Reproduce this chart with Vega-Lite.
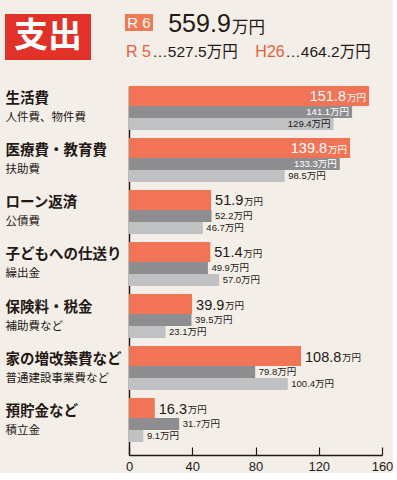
{
  "$schema": "https://vega.github.io/schema/vega-lite/v6.json",
  "background": "#f3efe8",
  "padding": {"left": 5, "top": 12, "right": 0, "bottom": 0},
  "config": {"view": {"stroke": null}, "concat": {"spacing": 0}},
  "datasets": {
    "bars": [
      {"cat": "生活費|人件費、物件費", "year": "R6", "value": 151.8},
      {"cat": "生活費|人件費、物件費", "year": "R5", "value": 141.1},
      {"cat": "生活費|人件費、物件費", "year": "H26", "value": 129.4},
      {"cat": "医療費・教育費|扶助費", "year": "R6", "value": 139.8},
      {"cat": "医療費・教育費|扶助費", "year": "R5", "value": 133.3},
      {"cat": "医療費・教育費|扶助費", "year": "H26", "value": 98.5},
      {"cat": "ローン返済|公債費", "year": "R6", "value": 51.9},
      {"cat": "ローン返済|公債費", "year": "R5", "value": 52.2},
      {"cat": "ローン返済|公債費", "year": "H26", "value": 46.7},
      {"cat": "子どもへの仕送り|繰出金", "year": "R6", "value": 51.4},
      {"cat": "子どもへの仕送り|繰出金", "year": "R5", "value": 49.9},
      {"cat": "子どもへの仕送り|繰出金", "year": "H26", "value": 57.0},
      {"cat": "保険料・税金|補助費など", "year": "R6", "value": 39.9},
      {"cat": "保険料・税金|補助費など", "year": "R5", "value": 39.5},
      {"cat": "保険料・税金|補助費など", "year": "H26", "value": 23.1},
      {"cat": "家の増改築費など|普通建設事業費など", "year": "R6", "value": 108.8},
      {"cat": "家の増改築費など|普通建設事業費など", "year": "R5", "value": 79.8},
      {"cat": "家の増改築費など|普通建設事業費など", "year": "H26", "value": 100.4},
      {"cat": "預貯金など|積立金", "year": "R6", "value": 16.3},
      {"cat": "預貯金など|積立金", "year": "R5", "value": 31.7},
      {"cat": "預貯金など|積立金", "year": "H26", "value": 9.1}
    ],
    "totals": [
      {"year": "R 6", "total": 559.9},
      {"year": "R 5", "total": 527.5},
      {"year": "H26", "total": 464.2}
    ]
  },
  "spacing": 24,
  "vconcat": [
    {
      "spacing": 34,
      "hconcat": [
        {
          "width": 86, "height": 46,
          "view": {"fill": "#e1322a", "stroke": null},
          "data": {"values": [{"t": "支出"}]},
          "mark": {"type": "text", "color": "#ffffff", "font": "Noto Sans CJK JP", "fontSize": 34, "fontWeight": "bold", "align": "center", "baseline": "middle"},
          "encoding": {"text": {"field": "t", "type": "nominal"}}
        },
        {
          "spacing": 5,
          "vconcat": [
            {
              "spacing": 14,
              "hconcat": [
                {
                  "width": 28, "height": 17,
                  "view": {"fill": "#f07a56", "stroke": null},
                  "data": {"name": "totals"},
                  "transform": [{"filter": "datum.year === 'R 6'"}],
                  "mark": {"type": "text", "color": "#ffffff", "font": "Liberation Sans", "fontSize": 15, "align": "center", "baseline": "bottom", "dy": 8.5},
                  "encoding": {"text": {"field": "year", "type": "nominal"}}
                },
                {
                  "spacing": 0,
                  "hconcat": [
                    {
                      "width": 65, "height": 23,
                      "data": {"name": "totals"},
                      "transform": [{"filter": "datum.year === 'R 6'"}],
                      "mark": {"type": "text", "color": "#231815", "font": "Liberation Sans", "fontSize": 25, "align": "center", "baseline": "bottom", "dy": 11.5},
                      "encoding": {"text": {"field": "total", "type": "quantitative", "format": ".1f"}}
                    },
                    {
                      "width": 33, "height": 23,
                      "data": {"name": "totals"},
                      "transform": [{"filter": "datum.year === 'R 6'"}],
                      "mark": {"type": "text", "color": "#231815", "font": "Noto Sans CJK JP", "fontSize": 16.5, "align": "center", "baseline": "bottom", "dy": 10},
                      "encoding": {"text": {"value": "万円"}}
                    }
                  ]
                }
              ]
            },
            {
              "spacing": 17,
              "hconcat": [
                {
                  "spacing": 0,
                  "hconcat": [
                    {
                      "width": 27, "height": 18,
                      "data": {"name": "totals"},
                      "transform": [{"filter": "datum.year === 'R 5'"}],
                      "mark": {"type": "text", "color": "#e8603a", "font": "Liberation Sans", "fontSize": 16, "align": "center", "baseline": "bottom", "dy": 9},
                      "encoding": {"text": {"field": "year", "type": "nominal"}}
                    },
                    {
                      "width": 86, "height": 18,
                      "data": {"name": "totals"},
                      "transform": [{"filter": "datum.year === 'R 5'"}, {"calculate": "'…' + format(datum.total, '.1f') + '万円'", "as": "lbl"}],
                      "mark": {"type": "text", "color": "#231815", "font": "Liberation Sans, Noto Sans CJK JP", "fontSize": 15.5, "align": "center", "baseline": "bottom", "dy": 9},
                      "encoding": {"text": {"field": "lbl", "type": "nominal"}}
                    }
                  ]
                },
                {
                  "spacing": 0,
                  "hconcat": [
                    {
                      "width": 30, "height": 18,
                      "data": {"name": "totals"},
                      "transform": [{"filter": "datum.year === 'H26'"}],
                      "mark": {"type": "text", "color": "#e8603a", "font": "Liberation Sans", "fontSize": 16, "align": "center", "baseline": "bottom", "dy": 9},
                      "encoding": {"text": {"field": "year", "type": "nominal"}}
                    },
                    {
                      "width": 82, "height": 18,
                      "data": {"name": "totals"},
                      "transform": [{"filter": "datum.year === 'H26'"}, {"calculate": "'…' + format(datum.total, '.1f') + '万円'", "as": "lbl"}],
                      "mark": {"type": "text", "color": "#231815", "font": "Liberation Sans, Noto Sans CJK JP", "fontSize": 15.5, "align": "center", "baseline": "bottom", "dy": 9},
                      "encoding": {"text": {"field": "lbl", "type": "nominal"}}
                    }
                  ]
                }
              ]
            }
          ]
        }
      ]
    },
    {
      "spacing": 2,
      "resolve": {"scale": {"x": "independent", "y": "independent"}},
      "hconcat": [
        {
          "width": 118,
          "height": 369,
          "data": {"name": "bars"},
          "transform": [{"filter": "datum.year === 'R6'"}],
          "resolve": {"axis": {"y": "independent"}},
          "layer": [
            {
              "mark": {"type": "point", "opacity": 0},
              "encoding": {
                "x": {"field": "value", "type": "quantitative", "axis": null},
                "y": {"field": "cat", "type": "nominal", "sort": null,
                  "scale": {"type": "band", "paddingInner": 0.154, "paddingOuter": 0.125, "align": 0},
                  "axis": {"orient": "left", "title": null, "domain": false, "ticks": false,
                    "labelAlign": "left", "labelBaseline": "middle", "labelPadding": 0, "labelOffset": -8.5,
                    "labelExpr": "split(datum.label, '|')[0]", "labelFont": "Noto Sans CJK JP", "labelFontSize": 14.5,
                    "labelFontWeight": "bold", "labelColor": "#231815", "labelLimit": 0}}
              }
            },
            {
              "mark": {"type": "point", "opacity": 0},
              "encoding": {
                "x": {"field": "value", "type": "quantitative", "axis": null},
                "y": {"field": "cat", "type": "nominal", "sort": null,
                  "axis": {"orient": "left", "title": null, "domain": false, "ticks": false,
                    "labelAlign": "left", "labelBaseline": "middle", "labelPadding": 0, "labelOffset": 10.5,
                    "labelExpr": "split(datum.label, '|')[1]", "labelFont": "Noto Sans CJK JP", "labelFontSize": 11.5,
                    "labelColor": "#231815", "labelLimit": 0}}
              }
            }
          ]
        },
        {
          "width": 253,
          "height": 369,
          "data": {"name": "bars"},
          "transform": [{"calculate": "format(datum.value, '.1f') + '万円'", "as": "label"}],
          "layer": [
            {
              "transform": [{"filter": "datum.year === 'R6'"}],
              "mark": {"type": "bar", "color": "#f07455", "height": 20, "yOffset": -12},
              "encoding": {
                "y": {"field": "cat", "type": "nominal", "sort": null,
                  "scale": {"type": "band", "paddingInner": 0.154, "paddingOuter": 0.125, "align": 0},
                  "axis": {"orient": "left", "title": null, "domain": true, "domainColor": "#231815", "domainWidth": 1.5, "ticks": false, "labels": false}},
                "x": {"field": "value", "type": "quantitative", "scale": {"domain": [0, 160], "nice": false},
                  "axis": {"values": [0, 40, 80, 120, 160], "title": null, "grid": false, "domain": true, "domainColor": "#231815",
                    "domainWidth": 1.5, "ticks": true, "tickColor": "#231815", "tickWidth": 1.2, "tickSize": -8,
                    "labelPadding": 13, "labelFont": "Liberation Sans",
                    "labelFontSize": 13, "labelColor": "#231815", "labelFlush": false}}
              }
            },
            {
              "transform": [{"filter": "datum.year === 'R5'"}],
              "mark": {"type": "bar", "color": "#8e8e90", "height": 12, "yOffset": 4},
              "encoding": {
                "y": {"field": "cat", "type": "nominal", "sort": null},
                "x": {"field": "value", "type": "quantitative"}
              }
            },
            {
              "transform": [{"filter": "datum.year === 'H26'"}],
              "mark": {"type": "bar", "color": "#c0c1c3", "height": 12, "yOffset": 16},
              "encoding": {
                "y": {"field": "cat", "type": "nominal", "sort": null},
                "x": {"field": "value", "type": "quantitative"}
              }
            },
            {
              "transform": [{"filter": "datum.year === 'R6' && datum.value >= 120"}],
              "mark": {"type": "text", "align": "right", "baseline": "alphabetic", "dx": -23, "dy": 5.5, "yOffset": -12, "color": "#ffffff", "font": "Liberation Sans", "fontSize": 14.5},
              "encoding": {
                "y": {"field": "cat", "type": "nominal", "sort": null},
                "x": {"field": "value", "type": "quantitative"},
                "text": {"field": "value", "type": "quantitative", "format": ".1f"}
              }
            },
            {
              "transform": [{"filter": "datum.year === 'R6' && datum.value >= 120"}],
              "mark": {"type": "text", "align": "right", "baseline": "alphabetic", "dx": -3, "dy": 5, "yOffset": -12, "color": "#ffffff", "font": "Noto Sans CJK JP", "fontSize": 9.5},
              "encoding": {
                "y": {"field": "cat", "type": "nominal", "sort": null},
                "x": {"field": "value", "type": "quantitative"},
                "text": {"value": "万円"}
              }
            },
            {
              "transform": [{"filter": "datum.year === 'R6' && datum.value < 120"}],
              "mark": {"type": "text", "align": "left", "baseline": "alphabetic", "dx": 4, "dy": 5.5, "yOffset": -12, "color": "#231815", "font": "Liberation Sans", "fontSize": 14.5},
              "encoding": {
                "y": {"field": "cat", "type": "nominal", "sort": null},
                "x": {"field": "value", "type": "quantitative"},
                "text": {"field": "value", "type": "quantitative", "format": ".1f"}
              }
            },
            {
              "transform": [{"filter": "datum.year === 'R6' && datum.value < 100"}],
              "mark": {"type": "text", "align": "left", "baseline": "alphabetic", "dx": 33, "dy": 5, "yOffset": -12, "color": "#231815", "font": "Noto Sans CJK JP", "fontSize": 9.5},
              "encoding": {
                "y": {"field": "cat", "type": "nominal", "sort": null},
                "x": {"field": "value", "type": "quantitative"},
                "text": {"value": "万円"}
              }
            },
            {
              "transform": [{"filter": "datum.year === 'R6' && datum.value >= 100 && datum.value < 120"}],
              "mark": {"type": "text", "align": "left", "baseline": "alphabetic", "dx": 41, "dy": 5, "yOffset": -12, "color": "#231815", "font": "Noto Sans CJK JP", "fontSize": 9.5},
              "encoding": {
                "y": {"field": "cat", "type": "nominal", "sort": null},
                "x": {"field": "value", "type": "quantitative"},
                "text": {"value": "万円"}
              }
            },
            {
              "transform": [{"filter": "datum.year === 'R5' && datum.value >= 120"}],
              "mark": {"type": "text", "align": "right", "baseline": "middle", "dx": -3, "yOffset": 4, "color": "#ffffff", "font": "Liberation Sans, Noto Sans CJK JP", "fontSize": 9.5},
              "encoding": {
                "y": {"field": "cat", "type": "nominal", "sort": null},
                "x": {"field": "value", "type": "quantitative"},
                "text": {"field": "label", "type": "nominal"}
              }
            },
            {
              "transform": [{"filter": "datum.year === 'R5' && datum.value < 120"}],
              "mark": {"type": "text", "align": "left", "baseline": "middle", "dx": 3.5, "yOffset": 4, "color": "#231815", "font": "Liberation Sans, Noto Sans CJK JP", "fontSize": 9.5},
              "encoding": {
                "y": {"field": "cat", "type": "nominal", "sort": null},
                "x": {"field": "value", "type": "quantitative"},
                "text": {"field": "label", "type": "nominal"}
              }
            },
            {
              "transform": [{"filter": "datum.year === 'H26' && datum.value >= 120"}],
              "mark": {"type": "text", "align": "right", "baseline": "middle", "dx": -3, "yOffset": 16, "color": "#231815", "font": "Liberation Sans, Noto Sans CJK JP", "fontSize": 9.5},
              "encoding": {
                "y": {"field": "cat", "type": "nominal", "sort": null},
                "x": {"field": "value", "type": "quantitative"},
                "text": {"field": "label", "type": "nominal"}
              }
            },
            {
              "transform": [{"filter": "datum.year === 'H26' && datum.value < 120"}],
              "mark": {"type": "text", "align": "left", "baseline": "middle", "dx": 3.5, "yOffset": 16, "color": "#231815", "font": "Liberation Sans, Noto Sans CJK JP", "fontSize": 9.5},
              "encoding": {
                "y": {"field": "cat", "type": "nominal", "sort": null},
                "x": {"field": "value", "type": "quantitative"},
                "text": {"field": "label", "type": "nominal"}
              }
            }
          ]
        }
      ]
    }
  ]
}
